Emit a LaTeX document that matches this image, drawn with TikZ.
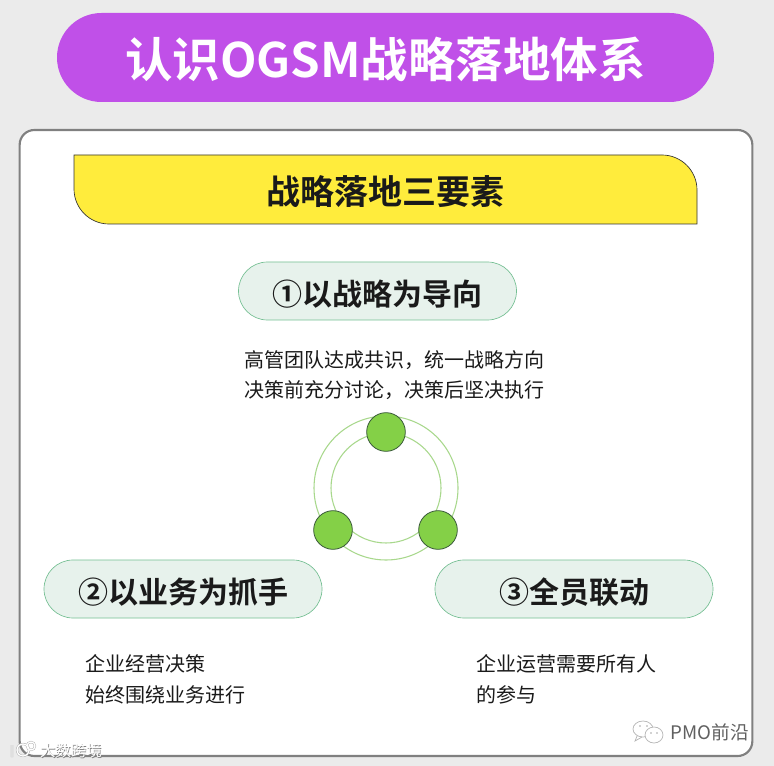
\documentclass[tikz,border=0pt]{standalone}
\usepackage{fontspec}
\setmainfont{Noto Sans CJK SC}[BoldFont={Noto Sans CJK SC Bold}]
\definecolor{bgc}{HTML}{EBEBEB}
\definecolor{purp}{HTML}{C050E8}
\definecolor{yel}{HTML}{FFEC3C}
\definecolor{pillf}{HTML}{E7F2EC}
\definecolor{pilld}{HTML}{74BF92}
\definecolor{ringc}{HTML}{A8D88C}
\definecolor{dotf}{HTML}{84D047}
\definecolor{dotd}{HTML}{3A5A3A}
\definecolor{ink}{HTML}{1A1A1A}
\usetikzlibrary{shapes.misc}
\newcommand{\lowpill}[1]{\raisebox{0pt}[21.6pt][0pt]{#1}}
\tikzset{
  pill/.style={draw=pilld,line width=0.5pt,fill=pillf,rounded rectangle,minimum width=208.5pt,minimum height=43.5pt,inner sep=0pt,text=ink,font=\fontsize{22.5pt}{26pt}\bfseries\selectfont},
  body/.style={anchor=west,align=left,inner sep=0pt,text=ink,font=\fontsize{15pt}{23pt}\selectfont},
  ring/.style={draw=ringc,line width=0.8pt,circle,inner sep=0pt},
  dot/.style={draw=dotd,line width=0.6pt,fill=dotf,circle,minimum size=29pt,inner sep=0pt},
  mark text/.style={inner sep=0pt,text=white,font=\fontsize{11.6pt}{14pt}\selectfont},
  mark shade/.style={inner sep=0pt,text=gray,font=\fontsize{11.6pt}{14pt}\selectfont},
}
\begin{document}
\begin{tikzpicture}[x=0.75pt,y=-0.75pt]
\useasboundingbox (0,0) rectangle (774,766);
\fill[bgc] (0,0) rectangle (774,766);
% title
\node[fill=purp,rounded rectangle,minimum width=492.75pt,minimum height=66.75pt,inner sep=0pt,text=white,font=\fontsize{35.6pt}{40pt}\bfseries\selectfont] (title) at (385.5,57.5) {\raisebox{0pt}[30pt][0pt]{认识OGSM战略落地体系}};
% card
\node[draw=gray,line width=1.6pt,fill=white,rounded corners=11pt,minimum width=549.5pt,minimum height=469.5pt,inner sep=0pt] (card) at (386,443) {};
% banner
\draw[draw=black!80,line width=0.5pt,fill=yel] (74,155) -- (662,155) arc[start angle=-90,end angle=0,radius=35] -- (697,224) -- (109,224) arc[start angle=90,end angle=180,radius=35] -- cycle;
\node[inner sep=0pt,text=ink,font=\fontsize{25.5pt}{30pt}\bfseries\selectfont] (banner) at (385.5,192) {战略落地三要素};
% rings
\node[ring,minimum size=108pt] (ringout) at (386,488) {};
\node[ring,minimum size=82.5pt] (ringin) at (386,488) {};
\node[dot] (d1) at (386,432) {};
\node[dot] (d2) at (333,530) {};
\node[dot] (d3) at (438,530) {};
% pills
\node[pill] (p1) at (377.5,291) {\lowpill{①以战略为导向}};
\node[pill] (p2) at (183,589) {\lowpill{②以业务为抓手}};
\node[pill] (p3) at (574,589) {\lowpill{③全员联动}};
% text
\node[body] (t1) at (244,375) {高管团队达成共识，统一战略方向\\决策前充分讨论，决策后坚决执行};
\node[body] (t2) at (85,679.5) {企业经营决策\\始终围绕业务进行};
\node[body] (t3) at (476,679.5) {企业运营需要所有人\\的参与};
% watermarks
\node[mark shade] (w1s) at (71.7,751.7) {大数跨境};
\node[mark text] (w1) at (71,751) {大数跨境};
\draw[gray!70,line width=1.6pt] (12,745) -- (12,757) (23,750) circle[radius=6] (31,746) circle[radius=4];
\draw[white,line width=1pt] (12,745) -- (12,757) (23,750) circle[radius=6] (31,746) circle[radius=4];
\node[inner sep=0pt,anchor=east,text=gray!75!black,font=\fontsize{14pt}{16pt}\selectfont] (w2) at (749,732) {PMO前沿};
\draw[gray!60,line width=0.5pt,fill=white] (643,729) ellipse[x radius=10,y radius=8] (637,736) -- (635,741) -- (642,737);
\draw[gray!60,line width=0.5pt,fill=white] (654,735) ellipse[x radius=9,y radius=8];
\fill[gray!70] (640,726) circle[radius=0.8] (647,726) circle[radius=0.8] (651,733) circle[radius=0.8] (657,733) circle[radius=0.8];
\end{tikzpicture}
\end{document}
